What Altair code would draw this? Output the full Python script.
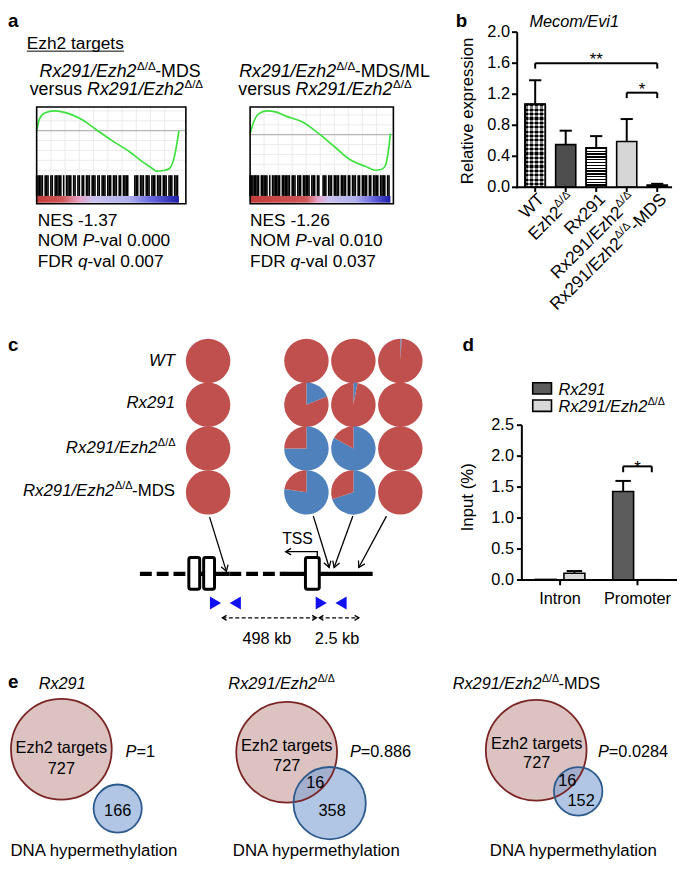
import math
import altair as alt
import pandas as pd

FONT = "Liberation Sans"
OX = OY = 8
RED, BLUE = "#C0504D", "#4F81BD"

# ------------------------------------------------------------------ data
# panel a : GSEA running enrichment score (rank fraction, ES) and hit positions
GSEA1_RANK = [0.0, 0.02, 0.056, 0.125, 0.18, 0.25, 0.32, 0.41, 0.53, 0.65, 0.74, 0.81, 0.84, 0.90, 0.935, 0.97, 1.0]
GSEA1_ES = [0.0, 0.12, 0.18, 0.20, 0.19, 0.16, 0.11, 0.02, -0.10, -0.21, -0.31, -0.38, -0.41, -0.40, -0.38, -0.25, 0.0]
GSEA2_RANK = [0.0, 0.026, 0.06, 0.12, 0.18, 0.27, 0.37, 0.49, 0.60, 0.72, 0.82, 0.89, 0.94, 0.965, 0.985, 1.0]
GSEA2_ES = [0.01, 0.13, 0.21, 0.24, 0.23, 0.18, 0.13, 0.01, -0.12, -0.26, -0.32, -0.36, -0.35, -0.31, -0.17, 0.01]
GSEA1_HITS = [0.00, 0.01, 0.02, 0.03, 0.04, 0.06, 0.07, 0.08, 0.10, 0.11, 0.13, 0.14, 0.15, 0.16, 0.17, 0.19,
              0.21, 0.22, 0.23, 0.24, 0.26, 0.27, 0.29, 0.30, 0.32, 0.33, 0.35, 0.36, 0.37, 0.39, 0.40, 0.41,
              0.43, 0.44, 0.46, 0.47, 0.48, 0.50, 0.51, 0.52, 0.54, 0.55, 0.56, 0.58, 0.59, 0.61, 0.62, 0.63,
              0.64, 0.69, 0.70, 0.71, 0.73, 0.74, 0.75, 0.77, 0.78, 0.79, 0.81, 0.82, 0.83, 0.85, 0.86, 0.87,
              0.89, 0.90, 0.91, 0.93, 0.94, 0.95, 0.97, 0.98, 0.99]
GSEA2_HITS = [0.00, 0.01, 0.02, 0.03, 0.04, 0.05, 0.06, 0.08, 0.09, 0.10, 0.11, 0.12, 0.14, 0.16, 0.17, 0.18,
              0.19, 0.20, 0.21, 0.23, 0.24, 0.25, 0.26, 0.27, 0.28, 0.30, 0.31, 0.32, 0.34, 0.35, 0.36, 0.38,
              0.39, 0.40, 0.41, 0.42, 0.44, 0.45, 0.46, 0.48, 0.49, 0.52, 0.53, 0.54, 0.56, 0.57, 0.58, 0.60,
              0.61, 0.62, 0.63, 0.65, 0.66, 0.67, 0.68, 0.70, 0.71, 0.73, 0.74, 0.75, 0.77, 0.78, 0.80, 0.81,
              0.82, 0.83, 0.85, 0.86, 0.88, 0.89, 0.90, 0.91, 0.93, 0.94, 0.95, 0.96, 0.98, 0.99]
GSEA_NES = ["-1.37", "-1.26"]
GSEA_NOMP = ["0.000", "0.010"]
GSEA_FDRQ = ["0.007", "0.037"]
GRID_X = [0.1, 0.2, 0.3, 0.4, 0.5, 0.6, 0.7, 0.8, 0.9]
GRID_Y = [-0.4, -0.3, -0.2, -0.1, 0.1, 0.2]

# panel b : Mecom/Evi1 relative expression
B_CATS = ["WT", "Ezh2Δ/Δ", "Rx291", "Rx291/Ezh2Δ/Δ", "Rx291/Ezh2Δ/Δ-MDS"]
B_LABEL_PARTS = [[("WT", "n")], [("Ezh2", "n"), ("Δ/Δ", "s")], [("Rx291", "n")],
                 [("Rx291/Ezh2", "n"), ("Δ/Δ", "s")], [("Rx291/Ezh2", "n"), ("Δ/Δ", "s"), ("-MDS", "n")]]
B_MEAN = [1.07, 0.55, 0.51, 0.59, 0.03]
B_ERR = [0.31, 0.18, 0.15, 0.29, 0.015]
B_TICKS = [0.0, 0.4, 0.8, 1.2, 1.6, 2.0]
B_SIG_FROM = [0, 3]
B_SIG_TO = [4, 4]
B_SIG_Y = [1.60, 1.22]
B_SIG_DROP = [1.53, 1.15]
B_SIG_LAB = ["**", "*"]

# panel c : methylation pies (blue = methylated fraction)
C_ROW_PARTS = [[("WT", "i")], [("Rx291", "i")], [("Rx291/Ezh2", "i"), ("Δ/Δ", "s")],
               [("Rx291/Ezh2", "i"), ("Δ/Δ", "s"), ("-MDS", "n")]]
C_BLUE = [[0, 0, 0, 0.01],
          [0, 0.19, 0.03, 0],
          [0, 0.75, 0.83, 0],
          [0, 0.775, 0.70, 0]]

# panel d : ChIP input %
D_GROUPS = ["Intron", "Promoter"]
D_SERIES = ["Rx291", "Rx291/Ezh2Δ/Δ"]
D_MEAN = [0.01, 0.11, 1.43, 0.005]
D_ERR = [0.0, 0.035, 0.17, 0.0]
D_TICKS = [0.0, 0.5, 1.0, 1.5, 2.0, 2.5]

# panel e : Venn
E_EZH2 = [727, 727, 727]
E_METH_ONLY = [166, 358, 152]
E_OVERLAP = [0, 16, 16]
E_P = ["1", "0.886", "0.0284"]

# ------------------------------------------------------------------ helpers
CW = {' ': 278, '-': 333, '.': 278, '/': 278, '=': 584, '(': 333, ')': 333, '%': 889, 'Δ': 668, '*': 389}
for d in "0123456789":
    CW[d] = 556
CW.update(dict(A=667, B=667, C=722, D=722, E=667, F=611, G=778, H=722, I=278, J=500, K=667, L=556, M=833,
               N=722, O=778, P=667, Q=778, R=722, S=667, T=611, U=722, V=667, W=944, X=667, Y=667, Z=611))
CW.update(dict(a=556, b=556, c=500, d=556, e=556, f=278, g=556, h=556, i=222, j=222, k=500, l=222, m=833,
               n=556, o=556, p=556, q=556, r=333, s=500, t=278, u=556, v=500, w=722, x=500, y=500, z=500))


def tw(s, size):
    return sum(CW.get(c, 556) for c in s) * size / 1000.0


def px(x):
    return x - OX


def py(y):
    return y - OY


def lin(d0, d1, r0, r1, ax):
    if ax == 'x':
        return alt.Scale(domain=[d0, d1], range=[px(r0), px(r1)], nice=False, zero=False)
    return alt.Scale(domain=[d0, d1], range=[py(r0), py(r1)], nice=False, zero=False)


CX = lin(0, 685, 0, 685, 'x')
CY = lin(0, 871, 0, 871, 'y')

layers = []
add = layers.append


def T(s, x, y, size=17, align='left', style='normal', weight='normal', baseline='alphabetic', angle=0):
    mk = dict(align=align, baseline=baseline, fontSize=size, font=FONT, fontStyle=style,
              fontWeight=weight, color='black')
    if angle:
        mk['angle'] = angle
    add(alt.Chart(pd.DataFrame({'t': [s]})).mark_text(**mk).encode(
        x=alt.value(px(x)), y=alt.value(py(y)), text='t:N'))


def RT(pieces, x, y, size=17, align='left'):
    widths = [tw(t, size * 0.65 if k == 's' else size) for t, k in pieces]
    total = sum(widths)
    cur = x - total if align == 'right' else (x - total / 2 if align == 'center' else x)
    for (t, k), w in zip(pieces, widths):
        if k == 's':
            T(t, cur + 0.5, y - size * 0.42, size * 0.65)
        else:
            T(t, cur, y, size, style='italic' if k == 'i' else 'normal')
        cur += w


def path(points, width=1.5, dash=None, color='black'):
    df = pd.DataFrame({'x': [p[0] for p in points], 'y': [p[1] for p in points],
                       'o': list(range(len(points)))})
    mk = dict(color=color, strokeWidth=width, strokeCap='butt')
    if dash:
        mk['strokeDash'] = dash
    add(alt.Chart(df).mark_line(**mk).encode(
        x=alt.X('x:Q', scale=CX, axis=None), y=alt.Y('y:Q', scale=CY, axis=None), order='o:Q'))


ARROW = "M -0.6 -1 L 0 0 L 0.6 -1"


def head(x, y, dxv, dyv, size=150, width=1.3):
    ang = math.degrees(math.atan2(-dxv, dyv)) % 360
    add(alt.Chart(pd.DataFrame({'x': [x], 'y': [y]})).mark_point(
        shape=ARROW, filled=False, stroke='black', strokeWidth=width, size=size, angle=ang, opacity=1
    ).encode(x=alt.X('x:Q', scale=CX, axis=None), y=alt.Y('y:Q', scale=CY, axis=None)))


def stripes(n, c1, c2, vertical=False):
    stops = []
    for k in range(n):
        a, m, b = k / n, (k + 0.5) / n, (k + 1) / n
        stops += [alt.GradientStop(offset=a, color=c1), alt.GradientStop(offset=m, color=c1),
                  alt.GradientStop(offset=m, color=c2), alt.GradientStop(offset=b, color=c2)]
    if vertical:
        return alt.LinearGradient(gradient='linear', stops=stops, x1=0, x2=1, y1=0, y2=0)
    return alt.LinearGradient(gradient='linear', stops=stops, x1=0, x2=0, y1=0, y2=1)


def hgrad(stops):
    return alt.LinearGradient(gradient='linear', x1=0, x2=1, y1=0, y2=0,
                              stops=[alt.GradientStop(offset=o, color=c) for o, c in stops])


# ------------------------------------------------------------------ panel a
T("a", 8, 22, 19, weight='bold')
T("Ezh2 targets", 27, 44, 17.5)
add(alt.Chart(pd.DataFrame({'a': [0]})).mark_rule(color='black', strokeWidth=1).encode(
    x=alt.value(px(27)), x2=alt.value(px(27 + tw("Ezh2 targets", 17.5))), y=alt.value(py(46.5))))

RT([("Rx291/Ezh2", 'i'), ("Δ/Δ", 's'), ("-MDS", 'n')], 40, 73, 18)
RT([("versus ", 'n'), ("Rx291/Ezh2", 'i'), ("Δ/Δ", 's')], 30, 91, 18)
RT([("Rx291/Ezh2", 'i'), ("Δ/Δ", 's'), ("-MDS/ML", 'n')], 242, 73, 18)
RT([("versus ", 'n'), ("Rx291/Ezh2", 'i'), ("Δ/Δ", 's')], 241, 91, 18)


def gsea(x0, x1, xr, ydom, rank, es, hits, stops):
    xs = lin(0, 1, x0, x1, 'x')
    ys = lin(ydom[0], ydom[1], 172, 103, 'y')
    add(alt.Chart(pd.DataFrame({'g': GRID_X})).mark_rule(color='#ebebeb', strokeWidth=1).encode(
        x=alt.X('g:Q', scale=xs, axis=None), y=alt.value(py(103)), y2=alt.value(py(172))))
    add(alt.Chart(pd.DataFrame({'g': GRID_Y})).mark_rule(color='#ebebeb', strokeWidth=1).encode(
        y=alt.Y('g:Q', scale=ys, axis=None), x=alt.value(px(x0)), x2=alt.value(px(xr))))
    add(alt.Chart(pd.DataFrame({'z': [0.0]})).mark_rule(color='#b5b5b5', strokeWidth=1.3).encode(
        y=alt.Y('z:Q', scale=ys, axis=None), x=alt.value(px(x0)), x2=alt.value(px(xr))))
    add(alt.Chart(pd.DataFrame({'r': rank, 'es': es, 'o': list(range(len(rank)))})).mark_line(
        color='#3ee23e', strokeWidth=1.7, interpolate='monotone').encode(
        x=alt.X('r:Q', scale=xs, axis=None), y=alt.Y('es:Q', scale=ys, axis=None), order='o:Q'))
    add(alt.Chart(pd.DataFrame({'h': hits})).mark_rule(color='black', strokeWidth=1.6).encode(
        x=alt.X('h:Q', scale=xs, axis=None), y=alt.value(py(172)), y2=alt.value(py(193))))
    add(alt.Chart(pd.DataFrame({'a': [0.0], 'b': [1.0]})).mark_rect(fill=hgrad(stops)).encode(
        x=alt.X('a:Q', scale=xs, axis=None), x2='b:Q', y=alt.value(py(193)), y2=alt.value(py(200))))
    add(alt.Chart(pd.DataFrame({'a': [0]})).mark_rect(filled=False, stroke='black', strokeWidth=1.6).encode(
        x=alt.value(px(x0)), x2=alt.value(px(xr)), y=alt.value(py(103)), y2=alt.value(py(201))))


gsea(37, 181, 188, (-0.45, 0.24), GSEA1_RANK, GSEA1_ES, GSEA1_HITS,
     [(0, '#c43c3c'), (0.18, '#cf5656'), (0.3, '#e6a2c6'), (0.4, '#c9c2f0'), (0.65, '#b0b0ee'),
      (0.8, '#6a6ae0'), (1, '#1c1ca8')])
gsea(253, 395, 398, (-0.41, 0.28), GSEA2_RANK, GSEA2_ES, GSEA2_HITS,
     [(0, '#c43c3c'), (0.4, '#cf5656'), (0.48, '#e6a2c6'), (0.56, '#c9c2f0'), (0.75, '#b0b0ee'),
      (0.87, '#6a6ae0'), (1, '#1c1ca8')])

for k, x0 in enumerate([38, 253]):
    RT([("NES " + GSEA_NES[k], 'n')], x0, 223, 17.5)
    RT([("NOM ", 'n'), ("P", 'i'), ("-val " + GSEA_NOMP[k], 'n')], x0, 244, 17.5)
    RT([("FDR ", 'n'), ("q", 'i'), ("-val " + GSEA_FDRQ[k], 'n')], x0, 265, 17.5)

# ------------------------------------------------------------------ panel b
T("b", 461, 22, 19, weight='bold')
T("Mecom/Evi1", 581, 22, 16.5, align='center', style='italic')
bx = lin(0, 4, 541.5, 665, 'x')
by = lin(0, 2, 184.3, 27.3, 'y')
dfb = pd.DataFrame({'cat': B_CATS, 'i': list(range(5)), 'm': B_MEAN, 'e': B_ERR})
bbase = alt.Chart(dfb).transform_calculate(
    xl='datum.i - 0.33', xr='datum.i + 0.33', z='0', top='datum.m + datum.e',
    cl='datum.i - 0.2', cr='datum.i + 0.2')
BX = lambda f: alt.X(f, scale=bx, axis=None)
BY = lambda f: alt.Y(f, scale=by, axis=None)
add(bbase.mark_rule(color='black', strokeWidth=2).encode(x=BX('i:Q'), y=BY('m:Q'), y2='top:Q'))
add(bbase.mark_rule(color='black', strokeWidth=2).encode(x=BX('cl:Q'), x2='cr:Q', y=BY('top:Q')))
add(bbase.mark_rect(stroke='black', strokeWidth=1.6).encode(
    x=BX('xl:Q'), x2='xr:Q', y=BY('m:Q'), y2='z:Q',
    fill=alt.Fill('cat:N', scale=alt.Scale(domain=B_CATS,
                  range=['#ffffff', '#4e4e4e', '#ffffff', '#d6d6d6', '#000000']), legend=None)))
add(bbase.transform_filter('datum.i == 0').mark_rect(fill=stripes(19, '#000000', '#ffffff'),
                                                      stroke='black', strokeWidth=1.6).encode(
    x=BX('xl:Q'), x2='xr:Q', y=BY('m:Q'), y2='z:Q'))
add(bbase.transform_filter('datum.i == 0').mark_rect(fill=stripes(4, '#000000', '#ffffff', True),
                                                      fillOpacity=0.5, stroke='black', strokeWidth=1.6).encode(
    x=BX('xl:Q'), x2='xr:Q', y=BY('m:Q'), y2='z:Q'))
add(bbase.transform_filter('datum.i == 2').mark_rect(fill=stripes(14, '#000000', '#ffffff'),
                                                      stroke='black', strokeWidth=1.6).encode(
    x=BX('xl:Q'), x2='xr:Q', y=BY('m:Q'), y2='z:Q'))
# axes
add(alt.Chart(pd.DataFrame({'a': [0]})).mark_rule(color='black', strokeWidth=2).encode(
    x=alt.value(px(523.3)), y=alt.value(py(27.3)), y2=alt.value(py(185.3))))
add(alt.Chart(pd.DataFrame({'a': [0]})).mark_rule(color='black', strokeWidth=2).encode(
    x=alt.value(px(522.3)), x2=alt.value(px(680)), y=alt.value(py(184.3))))
dft = pd.DataFrame({'v': B_TICKS})
add(alt.Chart(dft).mark_rule(color='black', strokeWidth=2).encode(
    x=alt.value(px(518)), x2=alt.value(px(523.3)), y=BY('v:Q')))
add(alt.Chart(dft).mark_text(align='right', baseline='middle', fontSize=16.5, font=FONT, color='black').encode(
    x=alt.value(px(516)), y=BY('v:Q'), text=alt.Text('v:Q', format='.1f')))
add(alt.Chart(dfb).mark_rule(color='black', strokeWidth=2).encode(
    x=BX('i:Q'), y=alt.value(py(184.3)), y2=alt.value(py(189))))
T("Relative expression", 474, 107, 17, align='center', baseline='middle', angle=270)
# significance
dfs = pd.DataFrame({'a': B_SIG_FROM, 'b': B_SIG_TO, 'y': B_SIG_Y, 'd': B_SIG_DROP, 'lab': B_SIG_LAB})
sbase = alt.Chart(dfs).transform_calculate(mid='(datum.a + datum.b) / 2')
add(sbase.mark_rule(color='black', strokeWidth=2).encode(x=BX('a:Q'), x2='b:Q', y=BY('y:Q')))
add(sbase.mark_rule(color='black', strokeWidth=2).encode(x=BX('a:Q'), y=BY('y:Q'), y2='d:Q'))
add(sbase.mark_rule(color='black', strokeWidth=2).encode(x=BX('b:Q'), y=BY('y:Q'), y2='d:Q'))
add(sbase.mark_text(baseline='alphabetic', fontSize=17, font=FONT, color='black', dy=2).encode(
    x=BX('mid:Q'), y=BY('y:Q'), text='lab:N'))


def rot_label(pieces, i, size=17.5):
    cur = 2.0
    for t, k in reversed(pieces):
        s = size * 0.65 if k == 's' else size
        dyv = 12.5 - (size * 0.42 if k == 's' else 0)
        add(alt.Chart(pd.DataFrame({'i': [i], 't': [t]})).mark_text(
            align='right', baseline='alphabetic', angle=315, fontSize=s, font=FONT, color='black',
            dx=cur, dy=dyv).encode(x=BX('i:Q'), y=alt.value(py(190)), text='t:N'))
        cur -= tw(t, s)


for i, parts in enumerate(B_LABEL_PARTS):
    rot_label(parts, i)

# ------------------------------------------------------------------ panel c
T("c", 8, 350, 19, weight='bold')
for parts, yb in zip(C_ROW_PARTS, [365, 408, 453, 497]):
    RT(parts, 177, yb, 17, align='right')

pie_rows = []
for r in range(4):
    for c in range(4):
        pie_rows.append({'r': r, 'c': c, 'part': 'blue', 'order': 0, 'frac': C_BLUE[r][c]})
        pie_rows.append({'r': r, 'c': c, 'part': 'red', 'order': 1, 'frac': 1 - C_BLUE[r][c]})
dfp = pd.DataFrame(pie_rows)
pbase = alt.Chart(dfp).transform_stack(
    stack='frac', groupby=['r', 'c'], as_=['t0', 't1'], sort=[alt.SortField('order', order='ascending')]
).transform_filter('datum.frac > 0')
pie_enc = dict(
    y=alt.Y('r:Q', scale=lin(0, 3, 360, 493, 'y'), axis=None, stack=None),
    theta=alt.Theta('t0:Q', scale=alt.Scale(domain=[0, 1], range=[0, 2 * math.pi]), stack=None),
    theta2=alt.Theta2('t1'),
    fill=alt.Fill('part:N', scale=alt.Scale(domain=['blue', 'red'], range=[BLUE, RED]), legend=None))
add(pbase.transform_filter('datum.c == 0').mark_arc(radius=22.5).encode(x=alt.value(px(210.5)), **pie_enc))
add(pbase.transform_filter('datum.c >= 1').mark_arc(radius=22.5).encode(
    x=alt.X('c:Q', scale=lin(1, 3, 310, 405, 'x'), axis=None, stack=None), **pie_enc))

# gene schematic
GY = 575.5
path([(141.5, GY), (190, GY)], width=4.5, dash=[12, 5])
path([(232, GY), (288, GY)], width=4.5, dash=[12, 5])
path([(190, GY), (232, GY)], width=4.5)
path([(287, GY), (377, GY)], width=4.5)
dfx = pd.DataFrame({'a': [191, 206, 309], 'b': [202, 217, 323]})
add(alt.Chart(dfx).mark_rect(fill='white', stroke='black', strokeWidth=3, cornerRadius=2).encode(
    x=alt.X('a:Q', scale=CX, axis=None), x2='b:Q', y=alt.value(py(559)), y2=alt.value(py(591))))
for (a, b) in [((212, 518), (229, 573)), ((317, 517), (333, 569)), ((357, 517), (338, 569)), ((391, 517), (363, 569))]:
    path([a, b], width=1.3)
    head(b[0], b[1], b[0] - a[0], b[1] - a[1], size=150)
path([(321, 559), (321, 553), (289, 553)], width=1.4)
head(289, 553, -1, 0, size=120)
T("TSS", 301, 545, 16, align='center')
dfpr = pd.DataFrame({'x': [218, 238, 325, 345], 'y': [605] * 4,
                     'sh': ['triangle-right', 'triangle-left', 'triangle-right', 'triangle-left']})
for sh in ['triangle-right', 'triangle-left']:
    add(alt.Chart(dfpr).transform_filter(alt.datum.sh == sh).mark_point(
        shape=sh, filled=True, color='#1010f0', size=170, opacity=1).encode(
        x=alt.X('x:Q', scale=CX, axis=None), y=alt.Y('y:Q', scale=CY, axis=None)))
for (a, b) in [(225, 320), (323, 363)]:
    path([(a, 620), (b, 620)], width=1.3, dash=[4, 2.5])
    head(a, 620, -1, 0, size=70)
    head(b, 620, 1, 0, size=70)
T("498 kb", 270, 646, 16.5, align='center')
T("2.5 kb", 341, 646, 16.5, align='center')

# ------------------------------------------------------------------ panel d
T("d", 468, 350, 19, weight='bold')
dxs = lin(0, 1, 566.7, 645, 'x')
dys = lin(0, 2.5, 581.7, 425, 'y')
dfd = pd.DataFrame({'g': [0, 0, 1, 1], 's': [0, 1, 0, 1],
                    'series': [D_SERIES[0], D_SERIES[1], D_SERIES[0], D_SERIES[1]],
                    'm': D_MEAN, 'e': D_ERR})
dbase = alt.Chart(dfd).transform_calculate(
    pos='datum.g + (datum.s - 0.5) * 0.37', xl='datum.g + (datum.s - 0.5) * 0.37 - 0.135',
    xr='datum.g + (datum.s - 0.5) * 0.37 + 0.135', z='0', top='datum.m + datum.e',
    cl='datum.g + (datum.s - 0.5) * 0.37 - 0.1', cr='datum.g + (datum.s - 0.5) * 0.37 + 0.1')
DX = lambda f: alt.X(f, scale=dxs, axis=None)
DY = lambda f: alt.Y(f, scale=dys, axis=None)
add(dbase.transform_filter('datum.e > 0').mark_rule(color='black', strokeWidth=2).encode(
    x=DX('pos:Q'), y=DY('m:Q'), y2='top:Q'))
add(dbase.transform_filter('datum.e > 0').mark_rule(color='black', strokeWidth=2).encode(
    x=DX('cl:Q'), x2='cr:Q', y=DY('top:Q')))
add(dbase.mark_rect(stroke='black', strokeWidth=1.6).encode(
    x=DX('xl:Q'), x2='xr:Q', y=DY('m:Q'), y2='z:Q',
    fill=alt.Fill('series:N', scale=alt.Scale(domain=D_SERIES, range=['#5c5c5c', '#d8d8d8']), legend=None)))
add(alt.Chart(pd.DataFrame({'a': [0]})).mark_rule(color='black', strokeWidth=2).encode(
    x=alt.value(px(528)), y=alt.value(py(425)), y2=alt.value(py(582.7))))
add(alt.Chart(pd.DataFrame({'a': [0]})).mark_rule(color='black', strokeWidth=2).encode(
    x=alt.value(px(527)), x2=alt.value(px(685)), y=alt.value(py(581.7))))
dfdt = pd.DataFrame({'v': D_TICKS})
add(alt.Chart(dfdt).mark_rule(color='black', strokeWidth=2).encode(
    x=alt.value(px(523)), x2=alt.value(px(528)), y=DY('v:Q')))
add(alt.Chart(dfdt).mark_text(align='right', baseline='middle', fontSize=16.5, font=FONT, color='black').encode(
    x=alt.value(px(520)), y=DY('v:Q'), text=alt.Text('v:Q', format='.1f')))
dfg = pd.DataFrame({'g': [0, 1], 'lab': D_GROUPS})
add(alt.Chart(dfg).mark_rule(color='black', strokeWidth=2).encode(
    x=DX('g:Q'), y=alt.value(py(581.7)), y2=alt.value(py(587))))
add(alt.Chart(dfg).mark_text(align='center', baseline='alphabetic', fontSize=16.5, font=FONT, color='black').encode(
    x=DX('g:Q'), y=alt.value(py(606)), text='lab:N'))
T("Input (%)", 474, 498, 17, align='center', baseline='middle', angle=270)
dfds = pd.DataFrame({'a': [0.815], 'b': [1.185], 'y': [1.835], 'd': [1.74], 'lab': ['*']})
add(alt.Chart(dfds).mark_rule(color='black', strokeWidth=2).encode(x=DX('a:Q'), x2='b:Q', y=DY('y:Q')))
add(alt.Chart(dfds).mark_rule(color='black', strokeWidth=2).encode(x=DX('a:Q'), y=DY('y:Q'), y2='d:Q'))
add(alt.Chart(dfds).mark_rule(color='black', strokeWidth=2).encode(x=DX('b:Q'), y=DY('y:Q'), y2='d:Q'))
add(alt.Chart(dfds).transform_calculate(mid='(datum.a + datum.b) / 2').mark_text(
    fontSize=17, font=FONT, color='black', dy=2).encode(x=DX('mid:Q'), y=DY('y:Q'), text='lab:N'))
# legend
add(alt.Chart(pd.DataFrame({'series': D_SERIES, 'y0': [382, 399.5], 'y1': [393.5, 411]})).mark_rect(
    stroke='black', strokeWidth=1.6).encode(
    x=alt.value(px(539)), x2=alt.value(px(558)), y=alt.Y('y0:Q', scale=CY, axis=None), y2='y1:Q',
    fill=alt.Fill('series:N', scale=alt.Scale(domain=D_SERIES, range=['#5c5c5c', '#d8d8d8']), legend=None)))
RT([("Rx291", 'i')], 565, 394, 16.5)
RT([("Rx291/Ezh2", 'i'), ("Δ/Δ", 's')], 565, 412, 16.5)

# ------------------------------------------------------------------ panel e
T("e", 8, 691, 19, weight='bold')
RT([("Rx291", 'i')], 39, 692, 16.5)
RT([("Rx291/Ezh2", 'i'), ("Δ/Δ", 's')], 231, 692, 16.5)
RT([("Rx291/Ezh2", 'i'), ("Δ/Δ", 's'), ("-MDS", 'n')], 458, 692, 16.5)

SIZE_SCALE = alt.Scale(domain=[0, 727], range=[0, 10404], zero=True, nice=False)
red_c = [(62, 753), (290, 756), (542.5, 754)]
blue_c = [(119, 813), (333.5, 807.5), (585, 795.5)]


def circle(n, cx, cy, filled, color, opacity=1.0, width=1.8):
    mk = dict(shape='circle', opacity=opacity)
    if filled:
        mk.update(filled=True, color=color, strokeWidth=0)
    else:
        mk.update(filled=False, stroke=color, strokeWidth=width, fillOpacity=0)
    add(alt.Chart(pd.DataFrame({'n': [n]})).mark_point(**mk).encode(
        x=alt.value(px(cx)), y=alt.value(py(cy)), size=alt.Size('n:Q', scale=SIZE_SCALE, legend=None)))


for k in range(3):
    nb = E_METH_ONLY[k] + E_OVERLAP[k]
    circle(E_EZH2[k], *red_c[k], True, '#dcc3c2')
    circle(nb, *blue_c[k], True, '#7fa3d3', opacity=0.62)
    circle(E_EZH2[k], *red_c[k], False, '#7a2424')
    circle(nb, *blue_c[k], False, '#2c5a8c')

T("Ezh2 targets", 62, 757, 16.5, align='center')
T(str(E_EZH2[0]), 62, 778, 16.5, align='center')
T("Ezh2 targets", 290, 755, 16.5, align='center')
T(str(E_EZH2[1]), 290, 775, 16.5, align='center')
T("Ezh2 targets", 543, 753, 16.5, align='center')
T(str(E_EZH2[2]), 543, 772, 16.5, align='center')
T(str(E_METH_ONLY[0]), 119, 820, 16.5, align='center')
T(str(E_OVERLAP[1]), 319, 792, 16.5, align='center')
T(str(E_METH_ONLY[1]), 336, 820, 16.5, align='center')
T(str(E_OVERLAP[2]), 574, 790, 16.5, align='center')
T(str(E_METH_ONLY[2]), 588, 810, 16.5, align='center')
for xp, p in zip([127, 354, 605], E_P):
    RT([("P", 'i'), ("=" + p, 'n')], xp, 761, 16.5)
for xc in [95, 320, 580]:
    T("DNA hypermethylation", xc, 861, 17, align='center')

# ------------------------------------------------------------------ assemble
chart = alt.layer(*layers).resolve_scale(
    x='independent', y='independent', fill='independent', color='independent',
    theta='independent', size='independent'
).properties(
    width=677, height=863, padding=0, autosize=alt.AutoSizeParams(type='none')
).configure_view(stroke=None)

chart.save("out.html", embed_options={"renderer": "svg", "actions": False})
